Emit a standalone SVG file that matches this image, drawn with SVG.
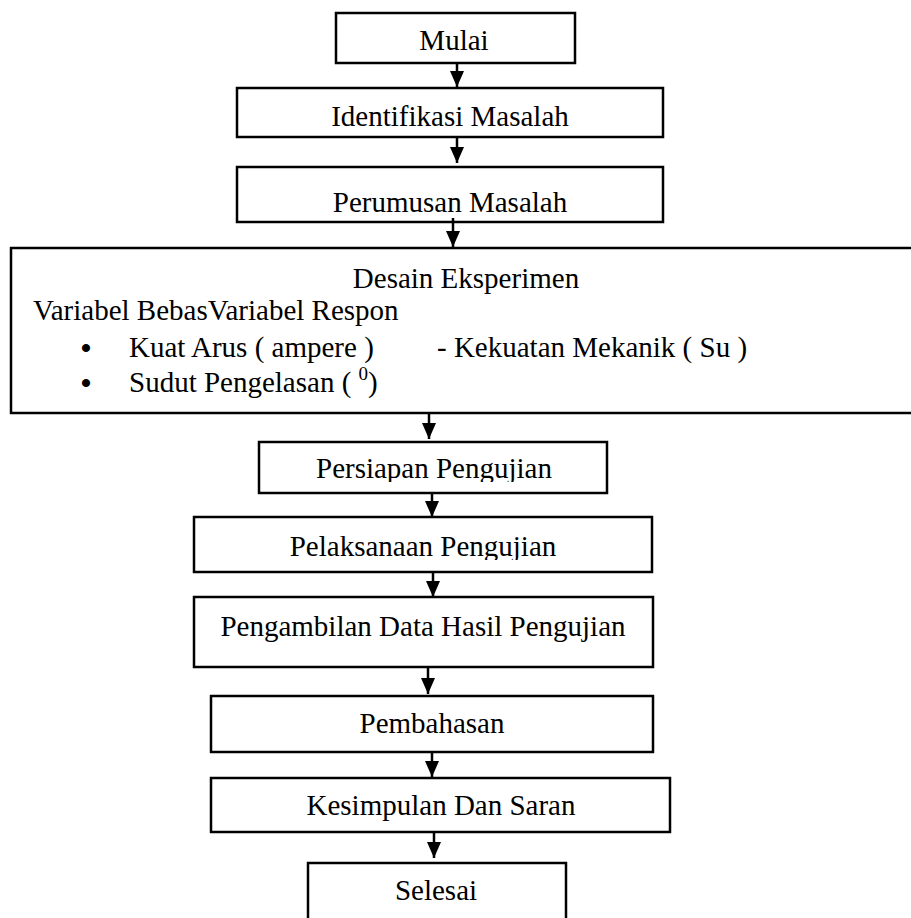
<svg xmlns="http://www.w3.org/2000/svg" width="911" height="918" viewBox="0 0 911 918">
<style>
.box{fill:#fff;stroke:#000;stroke-width:2.5}
.t{font-family:"Liberation Serif","Times New Roman",serif;font-size:29px;fill:#000}
.c{text-anchor:middle}
.b{font-family:"Liberation Serif","Times New Roman",serif;font-size:30px;font-weight:bold;fill:#000;text-anchor:middle}
.conn line{stroke:#000;stroke-width:2.5}
</style>
<defs>
<marker id="ah" markerUnits="userSpaceOnUse" markerWidth="16" markerHeight="14" viewBox="0 0 16 14" refX="16" refY="7" orient="auto">
<path d="M0,0 L16,7 L0,14 Z" fill="#000"/>
</marker>
<clipPath id="clipP"><rect x="0" y="440" width="911" height="42"/></clipPath>
<clipPath id="clipL"><rect x="0" y="518" width="911" height="42"/></clipPath>
</defs>
<rect width="911" height="918" fill="#fff"/>
<g id="mulai"><rect class="box" x="336" y="13" width="239" height="50"/><text class="t c" x="454" y="50">Mulai</text></g>
<g id="identifikasi"><rect class="box" x="237" y="88" width="426" height="49"/><text class="t c" x="450" y="126">Identifikasi Masalah</text></g>
<g id="perumusan"><rect class="box" x="237" y="167" width="426" height="55"/><text class="t c" x="450" y="212">Perumusan Masalah</text></g>
<g id="desain"><rect class="box" x="11" y="248" width="910" height="165"/>
<text class="t c" x="466" y="288">Desain Eksperimen</text>
<text class="t" x="33" y="320">Variabel BebasVariabel Respon</text>
<text class="b" x="86" y="358">•</text>
<text class="t" x="129" y="357">Kuat Arus ( ampere )</text>
<text class="t" x="437" y="357">- Kekuatan Mekanik ( Su )</text>
<text class="b" x="86" y="393">•</text>
<text class="t" x="129" y="392">Sudut Pengelasan ( <tspan font-size="19" dy="-12">0</tspan><tspan dy="12">)</tspan></text>
</g>
<g id="persiapan"><rect class="box" x="259" y="442" width="348" height="51"/><text class="t c" x="434" y="478" clip-path="url(#clipP)">Persiapan Pengujian</text></g>
<g id="pelaksanaan"><rect class="box" x="194" y="517" width="458" height="55"/><text class="t c" x="423" y="556" clip-path="url(#clipL)">Pelaksanaan Pengujian</text></g>
<g id="pengambilan"><rect class="box" x="194" y="597" width="459" height="70"/><text class="t c" x="423" y="636">Pengambilan Data Hasil Pengujian</text></g>
<g id="pembahasan"><rect class="box" x="211" y="696" width="442" height="56"/><text class="t c" x="432" y="733">Pembahasan</text></g>
<g id="kesimpulan"><rect class="box" x="211" y="778" width="459" height="54"/><text class="t c" x="441" y="815">Kesimpulan Dan Saran</text></g>
<g id="selesai"><rect class="box" x="308" y="863" width="258" height="70"/><text class="t c" x="436" y="900">Selesai</text></g>
<g id="connectors" class="conn">
<line x1="457" y1="63" x2="457" y2="87" marker-end="url(#ah)"/>
<line x1="457" y1="137" x2="457" y2="163" marker-end="url(#ah)"/>
<line x1="453" y1="218" x2="453" y2="247" marker-end="url(#ah)"/>
<line x1="429" y1="413" x2="429" y2="439" marker-end="url(#ah)"/>
<line x1="432" y1="493" x2="432" y2="517" marker-end="url(#ah)"/>
<line x1="433" y1="572" x2="433" y2="597" marker-end="url(#ah)"/>
<line x1="428" y1="667" x2="428" y2="694" marker-end="url(#ah)"/>
<line x1="432" y1="752" x2="432" y2="777" marker-end="url(#ah)"/>
<line x1="434" y1="832" x2="434" y2="858" marker-end="url(#ah)"/>
</g>
</svg>
